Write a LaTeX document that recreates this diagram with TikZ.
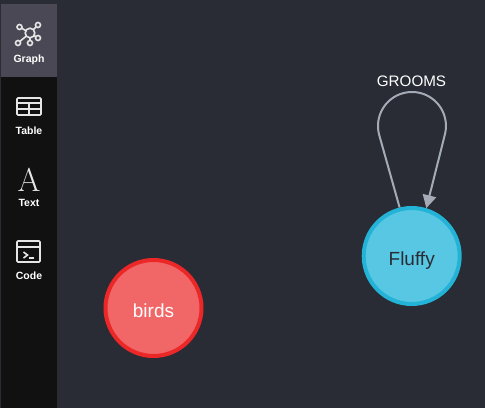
\documentclass[tikz,border=0pt]{standalone}
\usepackage{fontspec}
\setmainfont{Liberation Sans}
\newfontfamily\iconfont{Latin Modern Roman}
\usetikzlibrary{arrows.meta}
\definecolor{panel}{HTML}{292C34}
\definecolor{sidebar}{HTML}{111111}
\definecolor{tabactive}{HTML}{4A4854}
\definecolor{edgegray}{HTML}{A5ABB6}
\definecolor{fluffyfill}{HTML}{57C7E3}
\definecolor{fluffyline}{HTML}{23B3D7}
\definecolor{birdsfill}{HTML}{F16667}
\definecolor{birdsline}{HTML}{EB2728}
\definecolor{icongray}{HTML}{E6E6E6}
\tikzset{
  graphnode/.style={circle,line width=4pt,minimum size=96pt,inner sep=0pt,text height=18pt,text depth=0pt,font=\fontsize{19}{21}\selectfont},
  tablabel/.style={text=white,font=\fontsize{10.5}{12}\selectfont\bfseries},
  iconline/.style={draw=icongray,line width=1.6pt},
}
\begin{document}
\begin{tikzpicture}[x=1pt,y=1pt]
  \useasboundingbox (0,0) rectangle (485,408);
  \fill[panel] (0,0) rectangle (485,408);
  \fill[sidebar] (1,0) rectangle (57,404);
  \fill[tabactive] (1,331) rectangle (57,404);

  % graph icon
  \draw[iconline] (30,375) circle (4.8);
  \foreach \px/\py in {19.5/381,38/383,38/370,30/365,18/365} {
    \draw[iconline] (\px,\py) circle (2.5);
    \draw[iconline,shorten >=2.5pt,shorten <=4.8pt] (30,375) -- (\px,\py);
  }
  \node[tablabel] (graphtab) at (29,348.5) {Graph};

  % table icon
  \draw[iconline,rounded corners=1pt] (17,293) rectangle (41,310);
  \draw[iconline,line width=2.2pt] (17,305) -- (41,305);
  \draw[iconline] (17,299) -- (41,299);
  \draw[iconline] (29,293) -- (29,305);
  \node[tablabel] (tabletab) at (29,277) {Table};

  % text icon
  \node[text=icongray,font=\iconfont\fontsize{33}{33}\selectfont] (texticon) at (29,228) {A};
  \node[tablabel] (texttab) at (29,205) {Text};

  % code icon
  \draw[iconline,rounded corners=1pt] (17,146) rectangle (40,167);
  \draw[iconline] (17,161) -- (40,161);
  \draw[iconline] (23.5,156) -- (27.5,153) -- (23.5,150);
  \draw[iconline] (28.5,150) -- (33.5,150);
  \node[tablabel] (codetab) at (29,132) {Code};

  \node[graphnode,fill=birdsfill,draw=birdsline,text=white] (birds) at (153.5,100) {birds};
  \node[graphnode,fill=fluffyfill,draw=fluffyline,text=panel] (fluffy) at (411.7,152) {Fluffy};

  \coordinate (loopstart) at (379.1,273.4);
  \draw[edgegray,line width=2pt,-{Triangle[length=13pt,width=13.5pt]}]
    (fluffy.104.8) -- (loopstart) arc (194.7:-14.7:34) -- (fluffy.73.7);
  \node[text=white,font=\fontsize{15.2}{17}\selectfont] (grooms) at (411.5,327) {GROOMS};
\end{tikzpicture}
\end{document}
